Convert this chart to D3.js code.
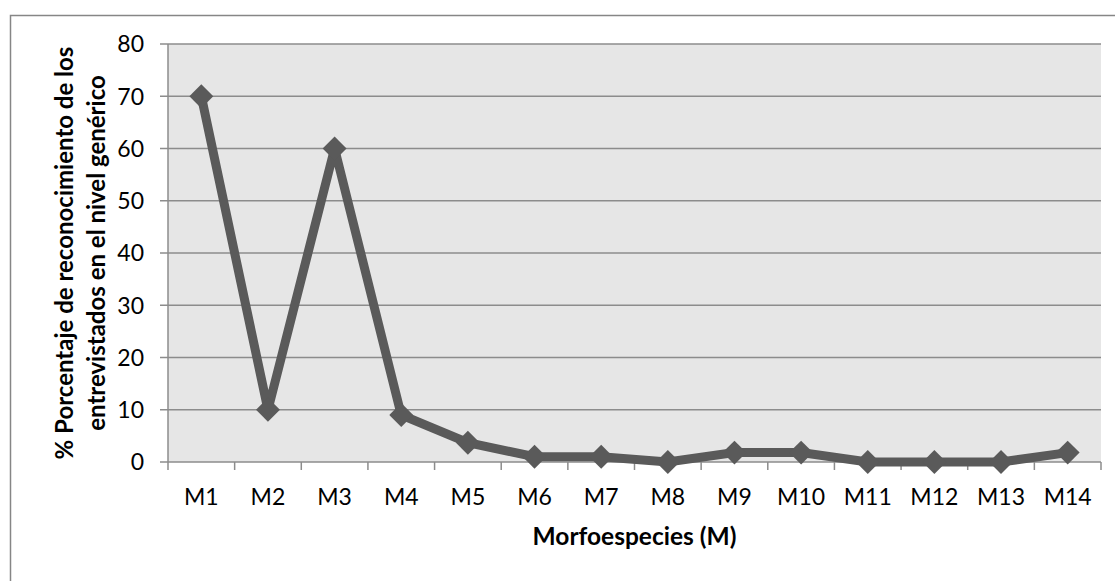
<!DOCTYPE html>
<html><head><meta charset="utf-8">
<script src="https://cdn.jsdelivr.net/npm/d3@7"></script>
<style>body{margin:0;background:#fff}svg{display:block}text{font-family:Lato,"Open Sans",sans-serif;fill:#000}</style>
</head><body><svg id="c" width="1115" height="581"></svg>
<script>
const categories = ["M1","M2","M3","M4","M5","M6","M7","M8","M9","M10","M11","M12","M13","M14"];
const values = [70,10,60,9,3.7,1,1,0,1.8,1.8,0,0,0,1.8];
const yTicks = [0,10,20,30,40,50,60,70,80];
const xTitle = "Morfoespecies (M)";
const yTitle = ["% Porcentaje de reconocimiento de los","entrevistados en el nivel genérico"];

const svg = d3.select("#c");
const L=168,R=1101,T=44,B=462;
svg.append("rect").attr("x",10.5).attr("y",15.5).attr("width",1120).attr("height",600).attr("fill","#fff").attr("stroke","#868686").attr("stroke-width",1.5);
const x = d3.scaleBand().domain(categories).range([L,R]);
const y = d3.scaleLinear().domain([0,80]).range([B,T]);
svg.append("rect").attr("x",L).attr("y",T).attr("width",R-L).attr("height",B-T).attr("fill","#e6e6e6");
svg.append("g").selectAll("line").data(yTicks).join("line")
 .attr("x1",L-8).attr("x2",R).attr("y1",d=>y(d)).attr("y2",d=>y(d)).attr("stroke","#8c8c8c").attr("stroke-width",1.5);
svg.append("line").attr("x1",L).attr("x2",L).attr("y1",T).attr("y2",B).attr("stroke","#8c8c8c").attr("stroke-width",1.5);
const xt = categories.map(c=>x(c)).concat([R]);
svg.append("g").selectAll("line").data(xt).join("line")
 .attr("x1",d=>d).attr("x2",d=>d).attr("y1",B).attr("y2",B+8).attr("stroke","#8c8c8c").attr("stroke-width",1.5);
svg.append("g").selectAll("text").data(yTicks).join("text")
 .attr("x",144).attr("y",d=>y(d)).attr("dy","0.36em").attr("text-anchor","end").attr("font-size",23).text(d=>d);
svg.append("g").selectAll("text").data(categories).join("text")
 .attr("x",d=>x(d)+x.bandwidth()/2).attr("y",505).attr("text-anchor","middle").attr("font-size",23).text(d=>d);
svg.append("text").attr("x",(L+R)/2).attr("y",545).attr("text-anchor","middle").attr("font-size",24.5).attr("font-weight","bold").text(xTitle);
yTitle.forEach((t,i)=>{
 svg.append("text").attr("transform",`translate(${73+i*32},${(T+B)/2}) rotate(-90)`).attr("text-anchor","middle").attr("font-size",24).attr("font-weight","bold").text(t);
});
const line = d3.line().x((d,i)=>x(categories[i])+x.bandwidth()/2).y(d=>y(d));
svg.append("path").datum(values).attr("d",line).attr("fill","none").attr("stroke","#5a5a5a").attr("stroke-width",9).attr("stroke-linejoin","miter");
svg.append("g").selectAll("path").data(values).join("path")
 .attr("d",d3.symbol(d3.symbolDiamond2,365)())
 .attr("transform",(d,i)=>`translate(${x(categories[i])+x.bandwidth()/2},${y(d)})`).attr("fill","#5a5a5a");
</script></body></html>
